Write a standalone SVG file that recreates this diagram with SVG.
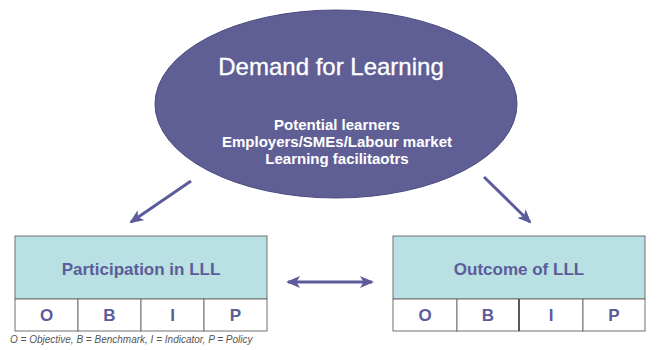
<svg xmlns="http://www.w3.org/2000/svg" width="657" height="350" viewBox="0 0 657 350">
<style>
.ttl{font-family:"Liberation Sans",Arial,sans-serif;fill:#ffffff;text-anchor:middle}
.box{fill:#b9e0e3;stroke:#707070;stroke-width:1}
.cell{fill:#ffffff;stroke:#707070;stroke-width:1}
.bt{font-family:"Liberation Sans",Arial,sans-serif;font-weight:bold;fill:#5c5c9a;text-anchor:middle}
.conn{stroke:#5c5c9c;stroke-width:3;fill:none}
</style>
<defs>
<marker id="ah" markerWidth="14" markerHeight="12" refX="12" refY="6" orient="auto-start-reverse" markerUnits="userSpaceOnUse">
<path d="M0,0 L14,6 L0,12 L3.5,6 Z" fill="#5c5c9c"/>
</marker>
</defs>
<rect width="657" height="350" fill="#ffffff"/>
<g id="demand">
<ellipse cx="336" cy="104" rx="181" ry="94" fill="#5f5f96" stroke="#4a4a7e" stroke-width="1"/>
<text class="ttl" x="331" y="75" font-size="24" stroke="#ffffff" stroke-width="0.3">Demand for Learning</text>
<text class="ttl" x="337" y="130" font-size="15" font-weight="bold">Potential learners</text>
<text class="ttl" x="337" y="147" font-size="15" font-weight="bold">Employers/SMEs/Labour market</text>
<text class="ttl" x="337" y="164" font-size="15" font-weight="bold">Learning facilitaotrs</text>
</g>
<g id="participation">
<rect class="box" x="15" y="236" width="252" height="63"/>
<text class="bt" x="141" y="275" font-size="17">Participation in LLL</text>
<rect class="cell" x="15" y="299" width="63" height="32"/>
<rect class="cell" x="78" y="299" width="63" height="32"/>
<rect class="cell" x="141" y="299" width="63" height="32"/>
<rect class="cell" x="204" y="299" width="63" height="32"/>
<text class="bt" x="46.5" y="321" font-size="17">O</text>
<text class="bt" x="109.5" y="321" font-size="17">B</text>
<text class="bt" x="172.5" y="321" font-size="17">I</text>
<text class="bt" x="235.5" y="321" font-size="17">P</text>
</g>
<g id="outcome">
<rect class="box" x="393" y="236" width="252" height="63"/>
<text class="bt" x="519" y="275" font-size="17">Outcome of LLL</text>
<rect class="cell" x="393" y="299" width="64" height="32"/>
<rect class="cell" x="457" y="299" width="62" height="32"/>
<rect class="cell" x="519" y="299" width="64" height="32"/>
<rect class="cell" x="583" y="299" width="62" height="32"/>
<line x1="519" y1="299" x2="519" y2="331" stroke="#505050" stroke-width="1.8"/>
<text class="bt" x="425" y="321" font-size="17">O</text>
<text class="bt" x="488" y="321" font-size="17">B</text>
<text class="bt" x="551" y="321" font-size="17">I</text>
<text class="bt" x="614" y="321" font-size="17">P</text>
</g>
<g id="legend">
<text x="10" y="343" font-family="'Liberation Sans',Arial,sans-serif" font-style="italic" font-size="10" fill="#555555">O = Objective, B = Benchmark, I = Indicator, P = Policy</text>
</g>
<g id="connectors">
<line class="conn" x1="191" y1="181" x2="131" y2="222" marker-end="url(#ah)"/>
<line class="conn" x1="484" y1="177" x2="530" y2="222" marker-end="url(#ah)"/>
<line class="conn" x1="288" y1="282" x2="372" y2="282" marker-start="url(#ah)" marker-end="url(#ah)"/>
</g>
</svg>
